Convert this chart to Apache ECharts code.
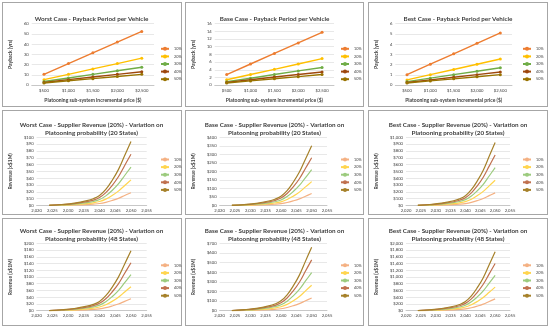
<!DOCTYPE html>
<html><head><meta charset="utf-8">
<script src="https://cdn.jsdelivr.net/npm/echarts@6/dist/echarts.min.js"></script>
<style>
body{margin:0;background:#fff;width:550px;height:328px;position:relative;overflow:hidden}
.cell{position:absolute}
.box{position:absolute;border:1px solid #A6A6A6;box-sizing:border-box}
</style></head><body>
<script>
// ---------- data ----------
const priceCats = ['$500', '$1,000', '$1,500', '$2,000', '$2,500'];
const probNames = ['10%', '20%', '30%', '40%', '50%'];
const revenueYears = [2024, 2028, 2032, 2036, 2038, 2040, 2042, 2044, 2046, 2048, 2050];

// payback (years) per probability: 10%,20%,30%,40%,50%
const worstPayback = [
  [10.5, 21.0, 31.5, 42.0, 52.5],
  [5.3, 10.5, 15.8, 21.0, 26.3],
  [3.5, 7.0, 10.5, 14.0, 17.5],
  [2.6, 5.3, 7.9, 10.5, 13.1],
  [2.1, 4.2, 6.3, 8.4, 10.5]
];
const basePayback = [
  [2.75, 5.5, 8.25, 11.0, 13.75],
  [1.4, 2.75, 4.1, 5.5, 6.9],
  [0.9, 1.8, 2.75, 3.7, 4.6],
  [0.7, 1.4, 2.1, 2.75, 3.4],
  [0.55, 1.1, 1.65, 2.2, 2.75]
];
const bestPayback = [
  [1.02, 2.04, 3.06, 4.08, 5.1],
  [0.51, 1.02, 1.53, 2.04, 2.55],
  [0.34, 0.68, 1.02, 1.36, 1.7],
  [0.26, 0.51, 0.77, 1.02, 1.28],
  [0.2, 0.41, 0.61, 0.82, 1.02]
];

// revenue (x$1M) per probability, at revenueYears
const worstRev20 = [
  [0.1, 0.3, 0.7, 1.4, 2.0, 2.9, 4.7, 7.3, 10.5, 14.7, 18.8],
  [0.1, 0.6, 1.4, 2.8, 3.9, 5.8, 9.4, 14.7, 21.1, 29.3, 37.6],
  [0.2, 0.9, 2.1, 4.2, 5.9, 8.7, 14.1, 22.0, 31.6, 44.0, 56.4],
  [0.2, 1.2, 2.8, 5.6, 7.9, 11.7, 18.8, 29.3, 42.1, 58.7, 75.2],
  [0.3, 1.5, 3.5, 7.1, 9.9, 14.6, 23.5, 36.7, 52.6, 73.3, 94.0]
];
const baseRev20 = [
  [0.2, 1.1, 2.6, 5.3, 7.4, 10.9, 17.5, 27.3, 39.2, 54.6, 70],
  [0.4, 2.2, 5.2, 10.5, 14.7, 21.7, 35.0, 54.6, 78.4, 109.2, 140],
  [0.6, 3.4, 7.8, 15.8, 22.1, 32.6, 52.5, 81.9, 117.6, 163.8, 210],
  [0.8, 4.5, 10.4, 21.0, 29.4, 43.4, 70.0, 109.2, 156.8, 218.4, 280],
  [1.0, 5.6, 13.0, 26.3, 36.8, 54.3, 87.5, 136.5, 196.0, 273.0, 350]
];
const bestRev20 = [
  [0.6, 3.0, 6.8, 13.9, 19.4, 28.7, 46.3, 72.2, 103.6, 144.3, 185],
  [1.1, 5.9, 13.7, 27.8, 38.9, 57.4, 92.5, 144.3, 207.2, 288.6, 370],
  [1.7, 8.9, 20.5, 41.6, 58.3, 86.0, 138.8, 216.5, 310.8, 432.9, 555],
  [2.2, 11.8, 27.4, 55.5, 77.7, 114.7, 185.0, 288.6, 414.4, 577.2, 740],
  [2.8, 14.8, 34.2, 69.4, 97.1, 143.4, 231.3, 360.8, 518.0, 721.5, 925]
];
const worstRev48 = [
  [0.1, 0.6, 1.3, 2.7, 3.7, 5.5, 8.9, 13.9, 19.9, 27.8, 35.6],
  [0.2, 1.1, 2.6, 5.3, 7.5, 11.0, 17.8, 27.7, 39.8, 55.4, 71.2],
  [0.3, 1.7, 4.0, 8.0, 11.2, 16.6, 26.7, 41.6, 59.8, 83.3, 106.8],
  [0.4, 2.3, 5.3, 10.7, 14.9, 22.1, 35.6, 55.5, 79.7, 111.1, 142.4],
  [0.5, 2.8, 6.6, 13.4, 18.7, 27.6, 44.5, 69.4, 99.7, 138.8, 178]
];
const baseRev48 = [
  [0.4, 2.1, 4.9, 9.9, 13.9, 20.5, 33.0, 51.5, 73.9, 103.0, 132],
  [0.8, 4.2, 9.8, 19.8, 27.7, 40.9, 66.0, 103.0, 147.8, 205.9, 264],
  [1.2, 6.3, 14.7, 29.7, 41.6, 61.4, 99.0, 154.4, 221.8, 308.9, 396],
  [1.6, 8.4, 19.5, 39.6, 55.4, 81.8, 132.0, 205.9, 295.7, 411.8, 528],
  [2.0, 10.6, 24.4, 49.5, 69.3, 102.3, 165.0, 257.4, 369.6, 514.8, 660]
];
const bestRev48 = [
  [1.1, 5.6, 13.0, 26.3, 36.8, 54.3, 87.5, 136.5, 196.0, 273.0, 350],
  [2.1, 11.2, 25.9, 52.5, 73.5, 108.5, 175.0, 273.0, 392.0, 546.0, 700],
  [3.2, 16.8, 38.9, 78.8, 110.3, 162.8, 262.5, 409.5, 588.0, 819.0, 1050],
  [4.2, 22.4, 51.8, 105.0, 147.0, 217.0, 350.0, 546.0, 784.0, 1092.0, 1400],
  [5.3, 28.0, 64.8, 131.3, 183.8, 271.3, 437.5, 682.5, 980.0, 1365.0, 1750]
];

// ---------- styling ----------
const FONT = 'Lato';
const payColors = ['#ED7D31', '#FFC000', '#70AD47', '#9E480E', '#997300'];
const revColors = ['#F4B183', '#FFD54F', '#9CCB7E', '#C0714F', '#A6812A'];
const TXT = '#404040';

const cells = [
  {x:0,   y:0,   w:183, h:108, kind:'pay', title:'Worst Case - Payback Period per Vehicle', data:worstPayback, max:60, step:10,
   grid:{left:26, top:23.7, width:128, height:65}, leg:{left:160, top:46.3}, yGap:14},
  {x:183, y:0,   w:183, h:108, kind:'pay', title:'Base Case - Payback Period per Vehicle', data:basePayback, max:16, step:2,
   grid:{left:22, top:23.7, width:129, height:65}, leg:{left:157, top:46.3}, yGap:13},
  {x:366, y:0,   w:184, h:108, kind:'pay', title:'Best Case - Payback Period per Vehicle', data:bestPayback, max:6, step:1,
   grid:{left:16, top:23.7, width:130, height:65}, leg:{left:156, top:46.3}, yGap:8},
  {x:0,   y:108, w:183, h:108, kind:'rev', title:'Worst Case - Supplier Revenue (20%) - Variation on\nPlatooning probability (20 States)', data:worstRev20, max:100, step:10,
   grid:{left:30.7, top:29.3, width:116, height:68.2}, leg:{left:160, top:49}, yGap:16},
  {x:183, y:108, w:183, h:108, kind:'rev', title:'Base Case - Supplier Revenue (20%) - Variation on\nPlatooning probability (20 States)', data:baseRev20, max:400, step:50,
   grid:{left:27.3, top:29.3, width:116.7, height:68.2}, leg:{left:157, top:49}, yGap:18},
  {x:366, y:108, w:184, h:108, kind:'rev', title:'Best Case - Supplier Revenue (20%) - Variation on\nPlatooning probability (20 States)', data:bestRev20, max:1000, step:100,
   grid:{left:25, top:29.3, width:119, height:68.2}, leg:{left:156, top:49}, yGap:17},
  {x:0,   y:216, w:183, h:112, kind:'rev', title:'Worst Case - Supplier Revenue (20%) - Variation on\nPlatooning probability (48 States)', data:worstRev48, max:200, step:20,
   grid:{left:30.7, top:27.3, width:116, height:67.4}, leg:{left:160, top:46.8}, yGap:16},
  {x:183, y:216, w:183, h:112, kind:'rev', title:'Base Case - Supplier Revenue (20%) - Variation on\nPlatooning probability (48 States)', data:baseRev48, max:700, step:100,
   grid:{left:26.7, top:27.3, width:117.3, height:67.4}, leg:{left:157, top:46.8}, yGap:17},
  {x:366, y:216, w:184, h:112, kind:'rev', title:'Best Case - Supplier Revenue (20%) - Variation on\nPlatooning probability (48 States)', data:bestRev48, max:2000, step:200,
   grid:{left:24, top:27.3, width:120, height:67.4}, leg:{left:156, top:46.8}, yGap:16}
];
const boxes = [
  [2,2,180,105],[185,2,179,105],[368,2,180,105],
  [2,110,180,105],[185,110,179,105],[368,110,180,105],
  [2,218,180,108],[185,218,179,108],[368,218,180,108]
];
boxes.forEach(b => {
  const d = document.createElement('div');
  d.className = 'box';
  d.style.left = b[0] + 'px'; d.style.top = b[1] + 'px';
  d.style.width = b[2] + 'px'; d.style.height = b[3] + 'px';
  document.body.appendChild(d);
});

cells.forEach(c => {
  const el = document.createElement('div');
  el.className = 'cell';
  el.style.left = c.x + 'px'; el.style.top = c.y + 'px';
  el.style.width = c.w + 'px'; el.style.height = c.h + 'px';
  document.body.appendChild(el);
  const chart = echarts.init(el, null, {renderer: 'canvas'});
  const isPay = c.kind === 'pay';
  const colors = isPay ? payColors : revColors;
  const series = c.data.map((vals, i) => ({
    type: 'line',
    name: probNames[i],
    data: isPay ? vals : vals.map((v, j) => [revenueYears[j], v]),
    smooth: isPay ? false : 0.4,
    symbol: isPay ? 'circle' : 'none',
    symbolSize: 3,
    showSymbol: isPay,
    lineStyle: {color: colors[i], width: isPay ? 1.4 : 1.2},
    itemStyle: {color: colors[i]},
    animation: false
  }));
  const axisLbl = {fontFamily: FONT, fontSize: 4.2, color: TXT};
  chart.setOption({
    animation: false,
    title: {
      text: c.title, left: 'center', top: isPay ? 9.5 : (c.y === 108 ? 8 : 6),
      textStyle: {fontFamily: FONT, fontSize: 6.3, fontWeight: 'bold', color: TXT, lineHeight: 8.2}
    },
    grid: c.grid,
    legend: {
      orient: 'vertical', left: c.leg.left, top: c.leg.top,
      itemWidth: 8, itemHeight: 5, itemGap: 2.6,
      data: probNames,
      textStyle: {fontFamily: FONT, fontSize: 3.8, color: TXT, lineHeight: 5},
      padding: 0
    },
    xAxis: isPay ? {
      type: 'category', data: priceCats, boundaryGap: true,
      axisLine: {lineStyle: {color: '#BFBFBF', width: 0.8}}, axisTick: {show: false},
      axisLabel: Object.assign({margin: 4}, axisLbl),
      name: 'Platooning sub-system incremental price ($)', nameLocation: 'middle', nameGap: 10,
      nameTextStyle: {fontFamily: FONT, fontSize: 5, fontWeight: 'bold', color: TXT}
    } : {
      type: 'value', min: 2020, max: 2055, interval: 5,
      axisLine: {lineStyle: {color: '#BFBFBF', width: 0.8}}, axisTick: {show: false},
      axisLabel: Object.assign({margin: 3}, axisLbl),
      splitLine: {show: false}
    },
    yAxis: {
      type: 'value', min: 0, max: c.max, interval: c.step,
      axisLine: {show: false}, axisTick: {show: false},
      axisLabel: Object.assign({margin: 3, formatter: isPay ? '{value}' : (v => '$' + v.toLocaleString('en-US'))}, axisLbl),
      splitLine: {lineStyle: {color: '#D9D9D9', width: 0.6}},
      name: isPay ? 'Payback (yrs)' : 'Revenue (x$1M)', nameLocation: 'middle', nameGap: c.yGap, nameRotate: 90,
      nameTextStyle: {fontFamily: FONT, fontSize: 5, fontWeight: 'bold', color: TXT}
    },
    series: series
  });
});
</script>
</body></html>
